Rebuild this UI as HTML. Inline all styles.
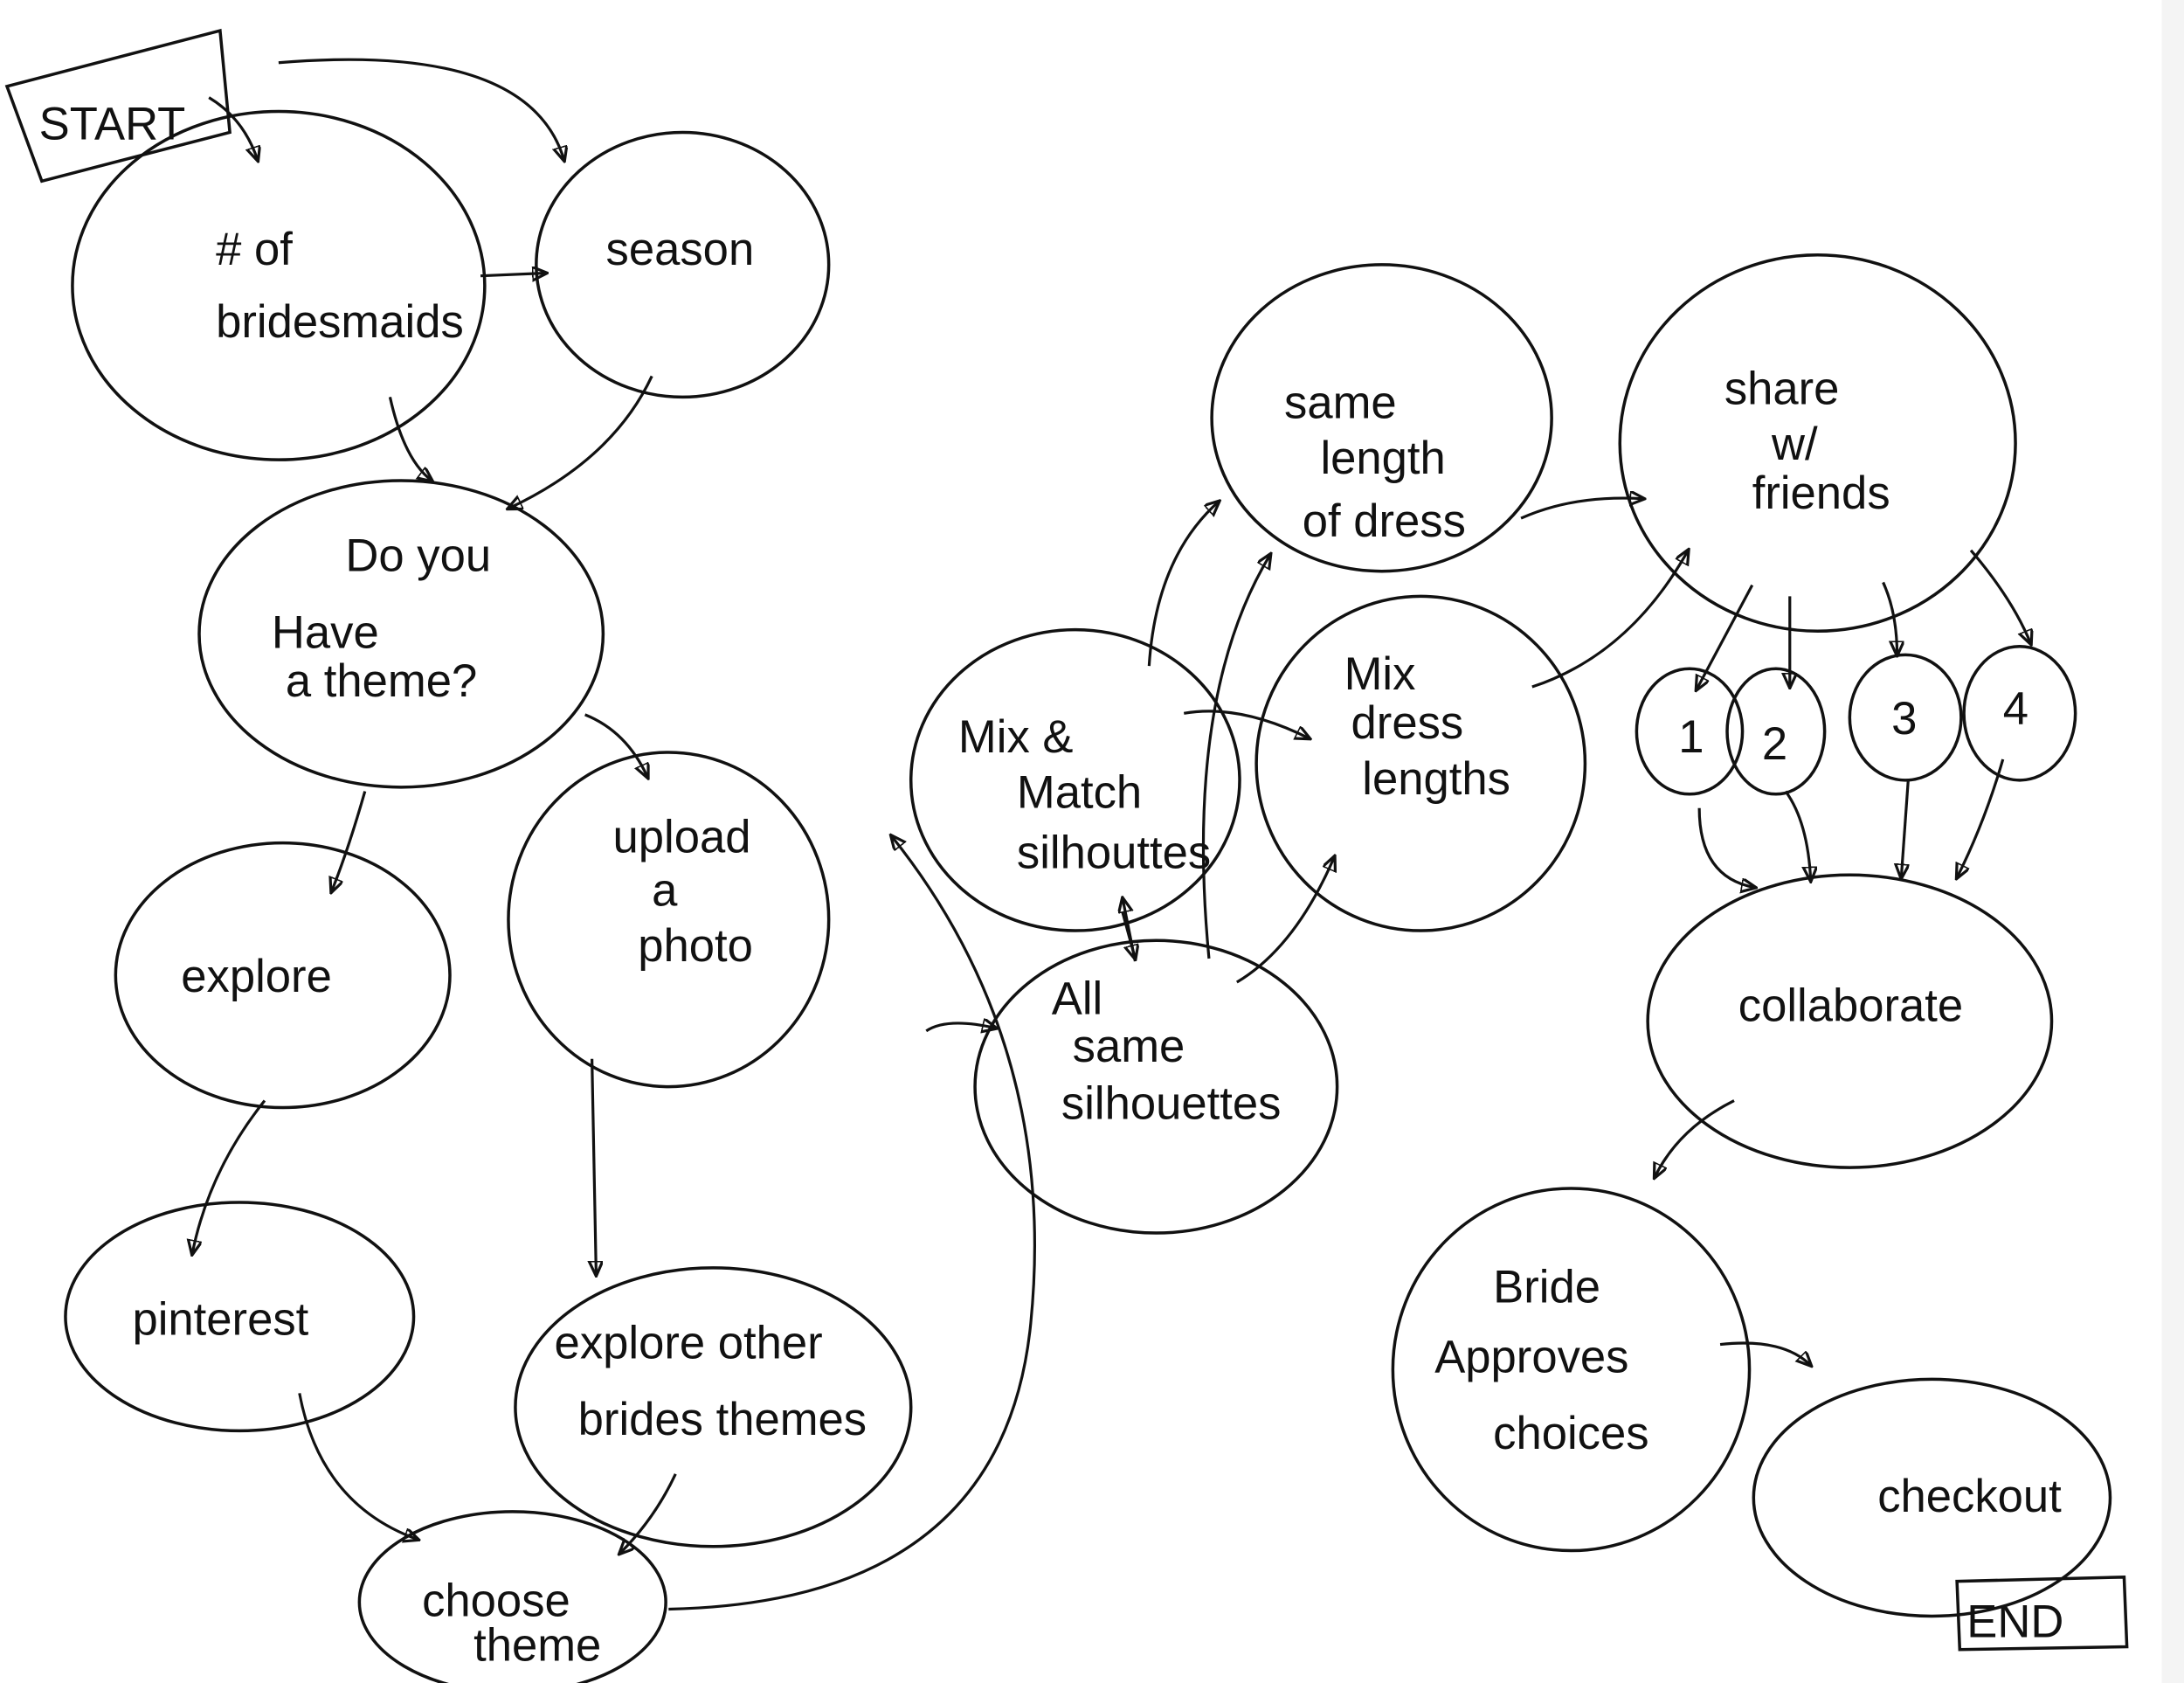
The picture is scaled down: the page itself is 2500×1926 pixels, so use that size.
<!DOCTYPE html>
<html><head><meta charset="utf-8"><style>
html,body{margin:0;padding:0;background:#fff;}
svg{display:block;}
text{font-family:"Liberation Sans",sans-serif;fill:#111;font-size:33px;}
</style></head><body>
<svg width="2500" height="1926" viewBox="0 0 1568 1208" xmlns="http://www.w3.org/2000/svg">
<defs><marker id="a" markerWidth="12" markerHeight="12" refX="10" refY="5" orient="auto" markerUnits="userSpaceOnUse"><path d="M0,0 L11,5 L0,10 Z" fill="none" stroke="#111" stroke-width="2"/></marker></defs>
<rect width="1568" height="1208" fill="#fff"/>
<rect x="1552" y="0" width="16" height="1208" fill="#f4f4f4"/>
<g fill="none" stroke="#111" stroke-width="2.2">
<path d="M5,62 L158,22 L165,95 L30,130 Z"/>
<path d="M1405,1135 L1525,1132 L1527,1182 L1407,1184 Z"/>
<ellipse cx="200" cy="205" rx="148" ry="125"/>
<ellipse cx="490" cy="190" rx="105" ry="95"/>
<ellipse cx="288" cy="455" rx="145" ry="110"/>
<ellipse cx="203" cy="700" rx="120" ry="95"/>
<ellipse cx="480" cy="660" rx="115" ry="120"/>
<ellipse cx="172" cy="945" rx="125" ry="82"/>
<ellipse cx="512" cy="1010" rx="142" ry="100"/>
<ellipse cx="368" cy="1150" rx="110" ry="65"/>
<ellipse cx="772" cy="560" rx="118" ry="108"/>
<ellipse cx="830" cy="780" rx="130" ry="105"/>
<ellipse cx="992" cy="300" rx="122" ry="110"/>
<ellipse cx="1020" cy="548" rx="118" ry="120"/>
<ellipse cx="1305" cy="318" rx="142" ry="135"/>
<ellipse cx="1213" cy="525" rx="38" ry="45"/>
<ellipse cx="1275" cy="525" rx="35" ry="45"/>
<ellipse cx="1368" cy="515" rx="40" ry="45"/>
<ellipse cx="1450" cy="512" rx="40" ry="48"/>
<ellipse cx="1328" cy="733" rx="145" ry="105"/>
<ellipse cx="1128" cy="983" rx="128" ry="130"/>
<ellipse cx="1387" cy="1075" rx="128" ry="85"/>
</g>
<g fill="none" stroke="#111" stroke-width="2" marker-end="url(#a)">
<path d="M150,70 Q175,85 185,115"/>
<path d="M200,45 Q380,30 405,115"/>
<path d="M345,198 L392,196"/>
<path d="M280,285 Q290,330 310,345"/>
<path d="M468,270 Q440,330 365,365"/>
<path d="M262,568 Q250,610 238,640"/>
<path d="M420,513 Q450,525 465,558"/>
<path d="M190,790 Q150,840 138,900"/>
<path d="M425,760 L428,915"/>
<path d="M215,1000 Q230,1080 300,1105"/>
<path d="M485,1058 Q470,1090 445,1115"/>
<path d="M480,1155 Q720,1150 740,950 Q760,750 640,600"/>
<path d="M665,740 Q680,730 715,738"/>
<path d="M825,478 Q830,400 875,360"/>
<path d="M850,512 Q890,505 940,530"/>
<path d="M868,688 Q850,500 912,398"/>
<path d="M815,690 L806,645"/>
<path d="M806,655 L815,688"/>
<path d="M888,705 Q930,680 958,615"/>
<path d="M1092,372 Q1130,355 1180,358"/>
<path d="M1100,493 Q1170,470 1212,395"/>
<path d="M1258,420 L1218,495"/>
<path d="M1285,428 L1285,493"/>
<path d="M1352,418 Q1362,440 1362,470"/>
<path d="M1415,395 Q1445,430 1458,462"/>
<path d="M1220,580 Q1220,630 1260,637"/>
<path d="M1282,568 Q1298,590 1300,632"/>
<path d="M1370,560 L1365,630"/>
<path d="M1438,545 Q1425,590 1405,630"/>
<path d="M1245,790 Q1205,810 1188,845"/>
<path d="M1235,965 Q1280,960 1300,980"/>
</g>
<text x="155" y="190">#  of</text>
<text x="155" y="242" font-size="30">bridesmaids</text>
<text x="435" y="190">season</text>
<text x="248" y="410">Do  you</text>
<text x="195" y="465">Have</text>
<text x="205" y="500">a  theme?</text>
<text x="130" y="712">explore</text>
<text x="440" y="612">upload</text>
<text x="468" y="650">a</text>
<text x="458" y="690">photo</text>
<text x="95" y="958">pinterest</text>
<text x="398" y="975">explore  other</text>
<text x="415" y="1030">brides  themes</text>
<text x="303" y="1160" font-size="28">choose</text>
<text x="340" y="1192" font-size="30">theme</text>
<text x="688" y="540">Mix &amp;</text>
<text x="730" y="580">Match</text>
<text x="730" y="623" font-size="31">silhouttes</text>
<text x="755" y="728">All</text>
<text x="770" y="762">same</text>
<text x="762" y="803">silhouettes</text>
<text x="922" y="300">same</text>
<text x="948" y="340">length</text>
<text x="935" y="385">of  dress</text>
<text x="965" y="495">Mix</text>
<text x="970" y="530">dress</text>
<text x="978" y="570">lengths</text>
<text x="1238" y="290">share</text>
<text x="1272" y="330">w/</text>
<text x="1258" y="365">friends</text>
<text x="1205" y="540">1</text>
<text x="1265" y="545">2</text>
<text x="1358" y="527">3</text>
<text x="1438" y="520">4</text>
<text x="1248" y="733">collaborate</text>
<text x="1072" y="935">Bride</text>
<text x="1030" y="985">Approves</text>
<text x="1072" y="1040">choices</text>
<text x="1348" y="1085">checkout</text>
<text x="28" y="100" font-size="28">START</text>
<text x="1412" y="1175" font-size="38">END</text>
</svg>
</body></html>
